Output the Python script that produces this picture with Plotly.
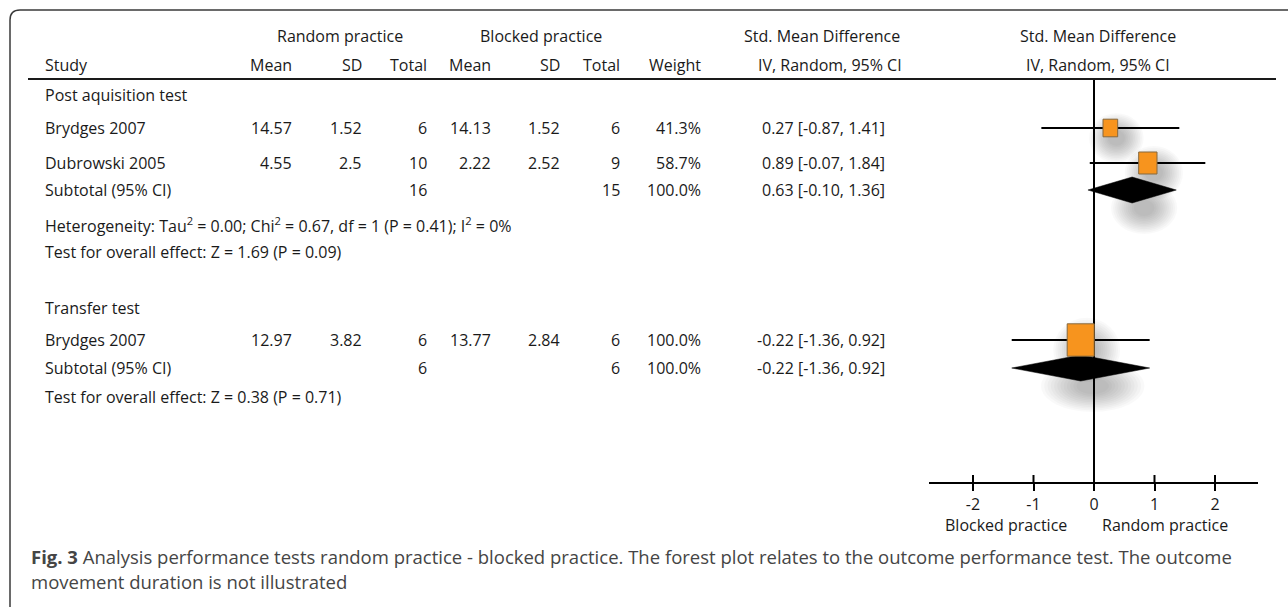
import plotly.graph_objects as go

# ---------------- data ----------------
study = ["Brydges 2007", "Dubrowski 2005", "Brydges 2007"]
study_group = [0, 0, 1]
rand_mean = [14.57, 4.55, 12.97]
rand_sd = [1.52, 2.5, 3.82]
rand_n = [6, 10, 6]
blk_mean = [14.13, 2.22, 13.77]
blk_sd = [1.52, 2.52, 2.84]
blk_n = [6, 9, 6]
weight = [41.3, 58.7, 100.0]
smd = [0.27, 0.89, -0.22]
ci_lo = [-0.87, -0.07, -1.36]
ci_hi = [1.41, 1.84, 0.92]

group_names = ["Post aquisition test", "Transfer test"]
sub_rand_n = [16, 6]
sub_blk_n = [15, 6]
sub_weight = [100.0, 100.0]
sub_smd = [0.63, -0.22]
sub_lo = [-0.10, -1.36]
sub_hi = [1.36, 0.92]
heterogeneity = ["Heterogeneity: Tau<sup>2</sup> = 0.00; Chi<sup>2</sup> = 0.67, df = 1 (P = 0.41); I<sup>2</sup> = 0%", None]
overall_effect = ["Test for overall effect: Z = 1.69 (P = 0.09)",
                  "Test for overall effect: Z = 0.38 (P = 0.71)"]

axis_ticks = [-2, -1, 0, 1, 2]
axis_left_label = "Blocked practice"
axis_right_label = "Random practice"

caption_1 = ("<b>Fig. 3</b> Analysis performance tests random practice - blocked practice. "
             "The forest plot relates to the outcome performance test. The outcome")
caption_2 = "movement duration is not illustrated"

# ---------------- layout geometry (pixels) ----------------
W, H = 1288, 607
FONT = "Open Sans"
FS = 16
INK = "#1a1a1a"
ZERO_PX = 1094          # screen position of SMD = 0
PX_PER_UNIT = 60.5      # screen pixels per SMD unit
AXIS_L, AXIS_R = 929, 1258

y_hdr1, y_hdr2, y_rule = 36, 65, 79
y_group = [95, 308]
y_study = [128, 163, 340]
y_sub = [190, 368]
y_het = [225, None]
y_overall = [252, 397]
y_axis = 483

# right edges of table columns
c_study = 44
c_rmean, c_rsd, c_rn = 293, 363, 428
c_bmean, c_bsd, c_bn = 492, 561, 621
c_weight = 702
c_ci = 886
c_ci_head = 822
c_forest_head = 1098

fig = go.Figure()


def px(x):
    return x / W


def txt(x, y, s, anchor="left", size=FS, color=INK):
    fig.add_annotation(x=px(x), y=y, xref="paper", yref="y", text=s, showarrow=False,
                       xanchor=anchor, yanchor="middle", borderpad=0,
                       font=dict(family=FONT, size=size, color=color))


# ---------------- frame ----------------
r = 10
fig.add_shape(type="path", xref="paper", yref="y", layer="above",
              path=f"M {px(10)} {H} L {px(10)} {10 + r} Q {px(10)} 10 {px(10 + r)} 10 L {px(W)} 10",
              line=dict(color="#3a3a3a", width=1.5))
fig.add_shape(type="line", xref="paper", yref="y", x0=px(28), x1=px(1276), y0=y_rule, y1=y_rule,
              line=dict(color=INK, width=2))

# ---------------- header ----------------
txt((c_rmean - 42 + c_rn) / 2, y_hdr1, "Random practice", "center")
txt((c_bmean - 44 + c_bn) / 2 + 6, y_hdr1, "Blocked practice", "center")
txt(c_ci_head, y_hdr1, "Std. Mean Difference", "center")
txt(c_forest_head, y_hdr1, "Std. Mean Difference", "center")
txt(c_study, y_hdr2, "Study")
for xr, lab in [(c_rmean, "Mean"), (c_rsd, "SD"), (c_rn, "Total"),
                (c_bmean, "Mean"), (c_bsd, "SD"), (c_bn, "Total"), (c_weight, "Weight")]:
    txt(xr, y_hdr2, lab, "right")
txt(c_ci_head + 8, y_hdr2, "IV, Random, 95% CI", "center")
txt(c_forest_head, y_hdr2, "IV, Random, 95% CI", "center")

# ---------------- table body ----------------
for g, name in enumerate(group_names):
    txt(c_study, y_group[g], name)
for i, name in enumerate(study):
    y = y_study[i]
    txt(c_study, y, name)
    txt(c_rmean, y, f"{rand_mean[i]:g}", "right")
    txt(c_rsd, y, f"{rand_sd[i]:g}", "right")
    txt(c_rn, y, f"{rand_n[i]}", "right")
    txt(c_bmean, y, f"{blk_mean[i]:g}", "right")
    txt(c_bsd, y, f"{blk_sd[i]:g}", "right")
    txt(c_bn, y, f"{blk_n[i]}", "right")
    txt(c_weight, y, f"{weight[i]:.1f}%", "right")
    txt(c_ci, y, f"{smd[i]:.2f} [{ci_lo[i]:.2f}, {ci_hi[i]:.2f}]", "right")
for g in range(len(group_names)):
    y = y_sub[g]
    txt(c_study, y, "Subtotal (95% CI)")
    txt(c_rn, y, f"{sub_rand_n[g]}", "right")
    txt(c_bn, y, f"{sub_blk_n[g]}", "right")
    txt(c_weight, y, f"{sub_weight[g]:.1f}%", "right")
    txt(c_ci, y, f"{sub_smd[g]:.2f} [{sub_lo[g]:.2f}, {sub_hi[g]:.2f}]", "right")
    if heterogeneity[g]:
        txt(c_study, y_het[g], heterogeneity[g])
    txt(c_study, y_overall[g], overall_effect[g])

# ---------------- forest plot ----------------
# soft drop shadows beneath the markers
def shadow(xv, y, dx, dy, rx, ry, layers=12, alpha=0.022):
    for k in range(layers):
        f = 1 - k / layers * 0.75
        fig.add_shape(type="circle", layer="below", xref="x", yref="y",
                      xsizemode="pixel", ysizemode="pixel", xanchor=xv, yanchor=y + dy,
                      x0=dx - rx * f, x1=dx + rx * f, y0=-ry * f, y1=ry * f,
                      fillcolor=f"rgba(0,0,0,{alpha})", line=dict(width=0))


half_w = [3 + 10.5 * w / 100 for w in weight]
for i in range(len(study)):
    shadow(smd[i], y_study[i], 6, 10, half_w[i] + 20, half_w[i] * 1.2 + 16)
for g in range(len(group_names)):
    span = (sub_hi[g] - sub_lo[g]) * PX_PER_UNIT / 2
    shadow(sub_smd[g], y_sub[g], 12, 18, span * 0.75, 26)

# line of no effect
fig.add_shape(type="line", layer="below", xref="x", yref="y", x0=0, x1=0, y0=y_rule, y1=y_axis,
              line=dict(color="black", width=2))

# confidence intervals
ci_x, ci_y = [], []
for i in range(len(study)):
    ci_x += [ci_lo[i], ci_hi[i], None]
    ci_y += [y_study[i], y_study[i], None]
fig.add_trace(go.Scatter(x=ci_x, y=ci_y, mode="lines", line=dict(color="black", width=2),
                         hoverinfo="skip", showlegend=False))

# study weight squares
for i in range(len(study)):
    hw = half_w[i]
    hh = hw * 1.2
    fig.add_shape(type="rect", layer="above", xref="x", yref="y",
                  xsizemode="pixel", ysizemode="pixel", xanchor=smd[i], yanchor=y_study[i],
                  x0=-hw, x1=hw, y0=-hh, y1=hh,
                  fillcolor="#F7941E", line=dict(color="#86693F", width=1))

# pooled diamonds
for g in range(len(group_names)):
    y = y_sub[g]
    fig.add_trace(go.Scatter(x=[sub_lo[g], sub_smd[g], sub_hi[g], sub_smd[g], sub_lo[g]],
                             y=[y, y - 13, y, y + 13, y], mode="lines", fill="toself",
                             fillcolor="black", line=dict(color="black", width=0.5),
                             hoverinfo="skip", showlegend=False))

# axis tick marks crossing the axis line
tk_x, tk_y = [], []
for t in axis_ticks:
    tk_x += [t, t, None]
    tk_y += [y_axis - 8, y_axis, None]
fig.add_trace(go.Scatter(x=tk_x, y=tk_y, xaxis="x2", yaxis="y", mode="lines",
                         line=dict(color="black", width=2), hoverinfo="skip", showlegend=False))

txt(1006, 525, axis_left_label, "center")
txt(1165, 525, axis_right_label, "center")

# ---------------- caption ----------------
txt(30, 556, caption_1, size=18.5, color="#454545")
txt(30, 581, caption_2, size=18.5, color="#454545")

fig.update_layout(
    width=W, height=H, margin=dict(l=0, r=0, t=0, b=0),
    paper_bgcolor="white", plot_bgcolor="rgba(0,0,0,0)", showlegend=False,
    xaxis=dict(domain=[0, 1], range=[-ZERO_PX / PX_PER_UNIT, (W - ZERO_PX) / PX_PER_UNIT],
               visible=False, fixedrange=True),
    xaxis2=dict(domain=[px(AXIS_L), px(AXIS_R)],
                range=[(AXIS_L - ZERO_PX) / PX_PER_UNIT, (AXIS_R - ZERO_PX) / PX_PER_UNIT],
                anchor="free", position=1 - y_axis / H, side="bottom",
                showline=True, linecolor="black", linewidth=2, showgrid=False, zeroline=False,
                ticks="outside", ticklen=7, tickwidth=2, tickcolor="black",
                tickvals=axis_ticks, ticktext=[str(t) for t in axis_ticks],
                tickfont=dict(family=FONT, size=FS, color=INK), fixedrange=True),
    yaxis=dict(domain=[0, 1], range=[H, 0], visible=False, fixedrange=True),
)

fig.write_html("out.html", config={"displayModeBar": False})
